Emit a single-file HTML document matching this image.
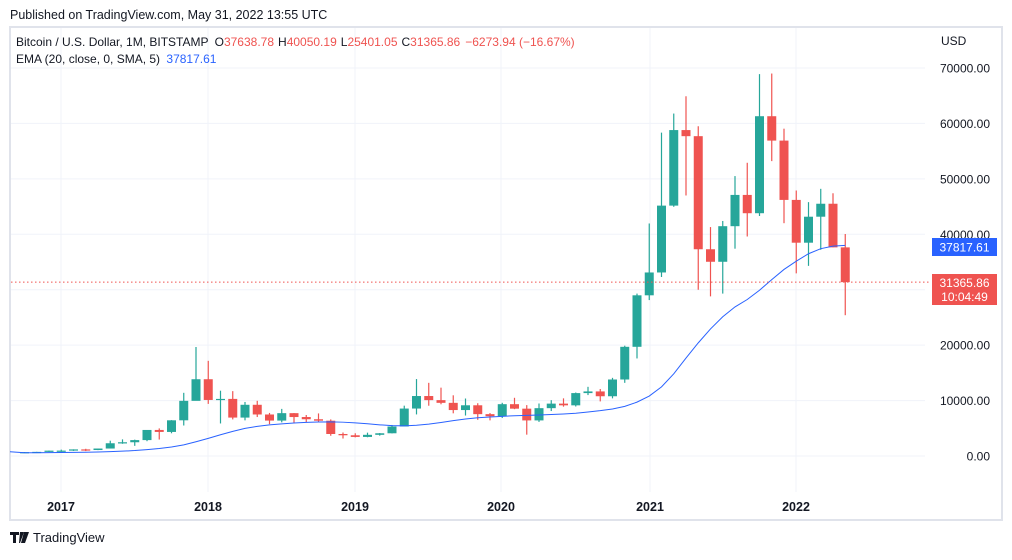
<!DOCTYPE html>
<html><head><meta charset="utf-8"><style>
body{margin:0;background:#fff;font-family:"Liberation Sans",sans-serif;}
</style></head><body>
<svg id="s" width="1012" height="555" xmlns="http://www.w3.org/2000/svg" font-family="Liberation Sans, sans-serif"></svg>
<script>
const d=[
[608,720,605,700],[700,750,690,745],[745,975,740,964],
[964,1150,750,970],[970,1200,920,1190],[1190,1300,890,1080],[1080,1350,1060,1348],[1348,2760,1350,2300],[2300,3000,2200,2480],[2480,2950,1830,2870],[2870,4480,2670,4700],[4700,4980,2970,4340],[4340,6470,4100,6440],[6440,11400,5500,9950],[9950,19666,10900,13850],
[13850,17170,9400,10110],[10110,11780,5870,10300],[10300,11700,6600,6930],[6930,9750,6430,9240],[9240,9960,7030,7490],[7490,7770,5750,6390],[6390,8500,6070,7730],[7730,7750,5880,7030],[7030,7400,6120,6630],[6630,7680,6200,6370],[6370,6600,3650,3970],[3970,4240,3150,3740],
[3740,4100,3360,3440],[3440,4210,3380,3820],[3820,4140,3670,4100],[4100,5600,4080,5320],[5320,9080,5320,8560],[8560,13880,7500,10820],[10820,13200,9070,10080],[10080,12330,9330,9590],[9590,10950,7700,8290],[8290,10370,7300,9150],[9150,9520,6530,7550],[7550,7750,6430,7170],
[7170,9600,6850,9350],[9350,10500,8450,8540],[8540,9180,3850,6420],[6420,9470,6150,8630],[8630,10070,8110,9450],[9450,10400,8900,9140],[9140,11450,8930,11350],[11350,12480,10990,11650],[11650,12090,9850,10780],[10780,14100,10400,13800],[13800,19900,13200,19700],[19700,29300,17600,28990],
[28990,41950,28130,33110],[33110,58350,32300,45170],[45170,61780,44960,58800],[58800,64900,47000,57700],[57700,59500,30000,37300],[37300,41300,28800,35040],[35040,42400,29300,41460],[41460,50500,37400,47100],[47100,52900,39600,43800],[43800,68900,43300,61300],[61300,69000,53200,56900],[56900,59050,42000,46200],
[46200,47900,32950,38480],[38480,45800,34300,43170],[43170,48200,37200,45510],[45510,47400,37650,37638],[37638,40050,25401,31365]];
const Y=p=>456-p*0.005543, X=i=>24.5+i*12.25;
let h='';
h+='<text x="10" y="19" font-size="12.5" fill="#131722">Published on TradingView.com, May 31, 2022 13:55 UTC</text>';
h+='<rect x="10" y="27" width="992" height="493" fill="none" stroke="#e0e3eb" stroke-width="2"/>';
const xs=[[61,'2017'],[208,'2018'],[355,'2019'],[501,'2020'],[650,'2021'],[796,'2022']];
xs.forEach(a=>{h+=`<line x1="${a[0]}" y1="28" x2="${a[0]}" y2="492" stroke="#f0f3fa"/>`;h+=`<text x="${a[0]}" y="511" font-size="12.5" font-weight="bold" text-anchor="middle" fill="#131722">${a[1]}</text>`;});
[55,182,310,437,565,692,820].forEach(x=>{});
for(let p=0;p<=70000;p+=10000){const y=Y(p);h+=`<line x1="11" y1="${y}" x2="925" y2="${y}" stroke="#f0f3fa"/>`;
 if(p!=30000)h+=`<text x="990" y="${y+4.5}" font-size="12" text-anchor="end" fill="#131722">${p.toFixed(2)}</text>`;}
h+='<text x="941" y="45" font-size="12" fill="#131722">USD</text>';
// candles
d.forEach((c,i)=>{const x=X(i),up=c[3]>=c[0],col=up?'#26a69a':'#ef5350';
h+=`<line x1="${x}" y1="${Y(c[1])}" x2="${x}" y2="${Y(c[2])}" stroke="${col}" stroke-width="1.2"/>`;
const t=Y(Math.max(c[0],c[3])),b=Y(Math.min(c[0],c[3]));h+=`<rect x="${x-4.5}" y="${t}" width="9" height="${Math.max(1.2,b-t)}" fill="${col}"/>`;});
// ema
let e=[],k=2/21,prev=null;
const pre=[570,575,590,600,610,620,600,600,608,605];
const closes=pre.concat(d.map(c=>c[3]));
closes.forEach(c=>{prev=prev==null?c:prev+k*(c-prev);e.push(prev);});
let sm=e.map((v,i)=>{let s=0,n=0;for(let j=Math.max(0,i-4);j<=i;j++){s+=e[j];n++;}return s/n;});
sm=sm.slice(pre.length);
let pts='10,'+(Y(sm[0])-1);
sm.forEach((v,i)=>pts+=` ${X(i)},${Y(v)}`);
h+=`<polyline points="${pts}" fill="none" stroke="#2962ff" stroke-width="1"/>`;
// price line
h+=`<line x1="11" y1="${Y(31365.86)}" x2="930" y2="${Y(31365.86)}" stroke="#ef5350" stroke-dasharray="1.5,2.5"/>`;
h+='<rect x="932" y="238" width="65" height="18" fill="#2962ff"/><text x="964.5" y="251.5" font-size="12" fill="#fff" text-anchor="middle">37817.61</text>';
h+='<rect x="932" y="274" width="65" height="31" fill="#ef5350"/><text x="964.5" y="287" font-size="12" fill="#fff" text-anchor="middle">31365.86</text><text x="964.5" y="301" font-size="12" fill="#fff" text-anchor="middle">10:04:49</text>';
// legend
h+='<text x="16" y="46" font-size="12" fill="#131722">Bitcoin / U.S. Dollar, 1M, BITSTAMP <tspan dx="3">O</tspan><tspan fill="#ef5350">37638.78</tspan><tspan dx="4">H</tspan><tspan fill="#ef5350">40050.19</tspan><tspan dx="4">L</tspan><tspan fill="#ef5350">25401.05</tspan><tspan dx="4">C</tspan><tspan fill="#ef5350">31365.86</tspan><tspan dx="5" fill="#ef5350">−6273.94 (−16.67%)</tspan></text>';
h+='<text x="16" y="63" font-size="12" fill="#131722">EMA (20, close, 0, SMA, 5) <tspan dx="3" fill="#2962ff">37817.61</tspan></text>';
// logo
h+='<path d="M10 532h9v3h-3v8h-3v-8h-3z M20 532h4l-4 11h-1z" fill="#131722"/><circle cx="21.5" cy="534" r="1.6" fill="#131722"/><path d="M24 532h5l-4 11h-4z" fill="#131722"/>';
h+='<text x="33" y="542" font-size="13" fill="#131722">TradingView</text>';
document.getElementById('s').innerHTML=h;
</script>
</body></html>
